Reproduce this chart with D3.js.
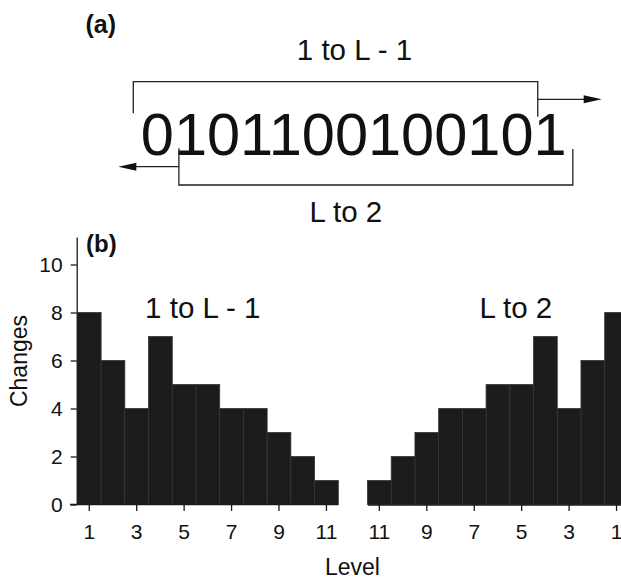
<!DOCTYPE html>
<html>
<head>
<meta charset="utf-8">
<script src="https://cdn.jsdelivr.net/npm/d3@7"></script>
<style>
    body { margin: 0; background: #fff; }
    text { font-family: "Liberation Sans", Arial, sans-serif; fill: #111; }
</style>
</head>
<body>
<div id="chart"></div>
<script>
// data
const bitString = "0101100100101";
const levels = [1, 2, 3, 4, 5, 6, 7, 8, 9, 10, 11];
const forwardChanges = [8, 6, 4, 7, 5, 5, 4, 4, 3, 2, 1];   // "1 to L - 1", levels 1..11
const backwardChanges = [8, 6, 4, 7, 5, 5, 4, 4, 3, 2, 1];  // "L to 2", levels 1..11
const levelTicks = [1, 3, 5, 7, 9, 11];
const changeTicks = [0, 2, 4, 6, 8, 10];
const forwardLabel = "1 to L - 1";
const backwardLabel = "L to 2";

class ChangesFigure {
    constructor() {
        this.width = 621;
        this.height = 578;
        this.svg = d3.select("#chart")
            .append("svg")
            .attr("width", this.width)
            .attr("height", this.height);

        // position of each character of the bit string
        this.charScale = d3.scaleLinear()
            .domain([0, bitString.length])
            .range([140.8, 140.8 + bitString.length * 33.08]);

        this.yScale = d3.scaleLinear()
            .domain([0, 11.15])
            .range([504.5, 236.9]);
        this.leftScale = d3.scaleBand()
            .domain(levels)
            .range([77.4, 338.3])
            .padding(0);
        this.rightScale = d3.scaleBand()
            .domain(levels.slice().reverse())
            .range([367.5, 628.4])
            .padding(0);

        this.drawPanelA();
        this.drawPanelB();
    }

    arrowHead(g, tipX, y, dir) {
        // dir = 1 points right, -1 points left
        let len = 18, half = 4;
        g.append("path")
            .attr("d", `M${tipX},${y} L${tipX - dir * len},${y - half} L${tipX - dir * len},${y + half} Z`)
            .attr("fill", "#111");
    }

    drawPanelA() {
        let g = this.svg.append("g");
        let cs = this.charScale;

        g.append("text")
            .attr("x", 85.5)
            .attr("y", 33)
            .attr("font-size", "25px")
            .attr("font-weight", "bold")
            .text("(a)");

        g.append("text")
            .attr("x", 296.8)
            .attr("y", 60)
            .attr("font-size", "29.5px")
            .text(forwardLabel);

        g.append("text")
            .attr("x", cs(0))
            .attr("y", 155)
            .attr("font-size", "59.5px")
            .text(bitString);

        g.append("text")
            .attr("x", 309.5)
            .attr("y", 221.7)
            .attr("font-size", "29.5px")
            .text(backwardLabel);

        // top bracket: reads from first bit up to L - 1
        let topL = cs(0) - 7.5, topR = cs(bitString.length - 1);
        g.append("path")
            .attr("d", `M${topL},113.3 V81.7 H${topR} V116.7`)
            .attr("fill", "none")
            .attr("stroke", "#222")
            .attr("stroke-width", 1.3);
        g.append("line")
            .attr("x1", topR).attr("x2", 590)
            .attr("y1", 99.3).attr("y2", 99.3)
            .attr("stroke", "#222")
            .attr("stroke-width", 1.3);
        this.arrowHead(g, 601.7, 99.3, 1);

        // bottom bracket: reads from L back to 2
        let botL = cs(1) + 5, botR = cs(bitString.length) + 2;
        g.append("path")
            .attr("d", `M${botL},148.3 V185 H${botR} V149`)
            .attr("fill", "none")
            .attr("stroke", "#222")
            .attr("stroke-width", 1.3);
        g.append("line")
            .attr("x1", botL).attr("x2", 130)
            .attr("y1", 166.7).attr("y2", 166.7)
            .attr("stroke", "#222")
            .attr("stroke-width", 1.3);
        this.arrowHead(g, 118.3, 166.7, -1);
    }

    drawBars(g, scale, values, cls) {
        g.selectAll("." + cls)
            .data(levels)
            .join("rect")
            .classed(cls, true)
            .attr("x", d => scale(d))
            .attr("width", scale.bandwidth())
            .attr("y", (d, i) => this.yScale(values[i]))
            .attr("height", (d, i) => this.yScale(0) - this.yScale(values[i]))
            .style("fill", "#1c1c1c")
            .style("stroke", "#333")
            .style("stroke-width", "0.8px");
    }

    styleAxis(ax) {
        ax.selectAll("path, line")
            .attr("stroke", "#1a1a1a")
            .attr("stroke-width", 1.3);
        ax.selectAll("text")
            .style("font-size", "21px")
            .style("font-family", "'Liberation Sans', Arial, sans-serif")
            .attr("fill", "#111");
    }

    drawPanelB() {
        let g = this.svg.append("g");
        let y0 = this.yScale(0);

        this.drawBars(g, this.leftScale, forwardChanges, "leftBars");
        this.drawBars(g, this.rightScale, backwardChanges, "rightBars");

        // y axis
        let yAxis = g.append("g")
            .attr("transform", "translate(76.7,0)")
            .call(d3.axisLeft(this.yScale)
                .tickValues(changeTicks)
                .tickSize(6)
                .tickSizeOuter(0)
                .tickPadding(8));
        this.styleAxis(yAxis);

        // x axes
        let leftAxis = g.append("g")
            .attr("transform", `translate(0,${y0})`)
            .call(d3.axisBottom(this.leftScale)
                .tickValues(levelTicks)
                .tickSize(6.5)
                .tickSizeOuter(0)
                .tickPadding(13));
        this.styleAxis(leftAxis);
        leftAxis.select(".domain")
            .attr("d", `M70,0 H${this.leftScale.range()[1]}`);

        let rightAxis = g.append("g")
            .attr("transform", `translate(0,${y0})`)
            .call(d3.axisBottom(this.rightScale)
                .tickValues(levelTicks)
                .tickSize(6.5)
                .tickSizeOuter(0)
                .tickPadding(13));
        this.styleAxis(rightAxis);

        // labels
        g.append("text")
            .attr("x", 86)
            .attr("y", 251.5)
            .attr("font-size", "24px")
            .attr("font-weight", "bold")
            .text("(b)");

        g.append("text")
            .attr("x", 145.1)
            .attr("y", 318.3)
            .attr("font-size", "29.5px")
            .text(forwardLabel);

        g.append("text")
            .attr("x", 479.5)
            .attr("y", 318.3)
            .attr("font-size", "29.5px")
            .text(backwardLabel);

        g.append("text")
            .attr("transform", "translate(27,361) rotate(-90)")
            .attr("text-anchor", "middle")
            .attr("font-size", "23px")
            .text("Changes");

        g.append("text")
            .attr("x", 325)
            .attr("y", 574.5)
            .attr("font-size", "23px")
            .text("Level");
    }
}

new ChangesFigure();
</script>
</body>
</html>
